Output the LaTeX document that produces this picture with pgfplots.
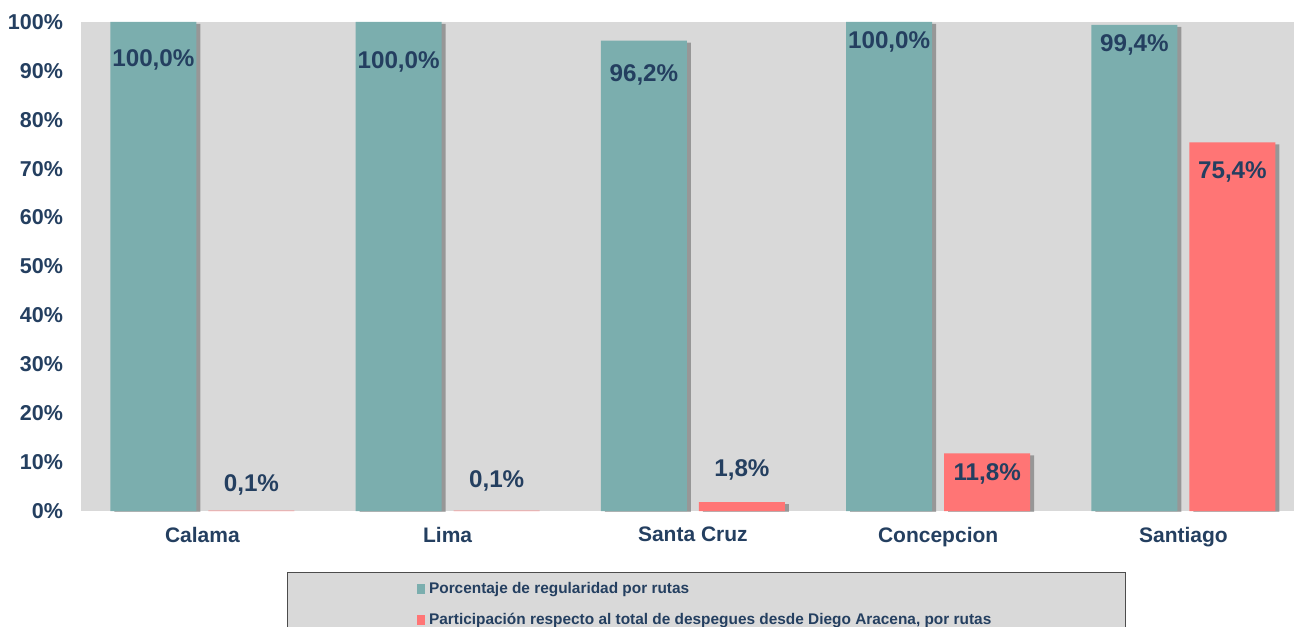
\documentclass[border=0pt]{standalone}
\usepackage{fontspec}
\setmainfont{Liberation Sans}
\usepackage{pgfplots}
\pgfplotsset{compat=1.18}
\usetikzlibrary{shadows,calc}
\definecolor{tealbar}{HTML}{7BAEAE}
\definecolor{redbar}{HTML}{FF7575}
\definecolor{navy}{HTML}{243F60}
\definecolor{bg}{HTML}{D9D9D9}
\begin{document}
\begin{tikzpicture}
\begin{axis}[
    scale only axis,
    width=606.5pt, height=244.5pt,
    xmin=-0.495, xmax=4.451, ymin=0, ymax=100,
    axis background/.style={fill=bg},
    axis line style={draw=none},
    major tick length=0pt,
    xtick={0,1,2,3,4},
    xticklabels={Calama,Lima,Santa Cruz,Concepcion,Santiago},
    ytick={0,10,20,30,40,50,60,70,80,90,100},
    yticklabels={0\%,10\%,20\%,30\%,40\%,50\%,60\%,70\%,80\%,90\%,100\%},
    x tick label style={font=\fontsize{10.5}{12}\selectfont\bfseries, text=navy, yshift=-4.5pt},
    y tick label style={font=\fontsize{10.75}{12}\selectfont\bfseries, text=navy, xshift=-5.5pt},
    legend style={at={(0.5155,-0.1247)}, anchor=north, fill=bg, draw=gray!60!black,
        inner xsep=65pt, inner ysep=3pt, row sep=4.5pt,
        font=\fontsize{7.7}{9}\selectfont\bfseries, text=navy},
    legend cell align=left,
    nodes near coords style={font=\fontsize{12.1}{14}\selectfont\bfseries, text=navy, anchor=center},
    shadowed/.style={drop shadow={shadow xshift=2pt, shadow yshift=-1pt, opacity=0.3, fill=black}},
]
\coordinate (bl) at (rel axis cs:0,0);
\coordinate (tr) at (rel axis cs:1,1);
\addplot[ybar, bar width=43pt, bar shift=-24.5pt, fill=tealbar, draw=none, shadowed, forget plot]
    coordinates {(0,100) (1,100) (2,96.2) (3,100) (4,99.4)};
\addplot[ybar, bar width=43pt, bar shift=24.5pt, fill=redbar, draw=none, shadowed, forget plot]
    coordinates {(0,0.1) (1,0.1) (2,1.8) (3,11.8) (4,75.4)};
\addplot[draw=none, mark=none, forget plot, nodes near coords, point meta=explicit symbolic,
    nodes near coords style={xshift=-24.5pt}]
    coordinates {(0,92.2) [100,0\%] (1,91.8) [100,0\%] (2,89.2) [96,2\%] (3,95.9) [100,0\%] (4,95.3) [99,4\%]};
\addplot[draw=none, mark=none, forget plot, nodes near coords, point meta=explicit symbolic,
    nodes near coords style={xshift=24.5pt}]
    coordinates {(0,5.3) [0,1\%] (1,6.1) [0,1\%] (2,8.4) [1,8\%] (3,7.6) [11,8\%] (4,69.3) [75,4\%]};
\addlegendimage{legend image code/.code={\fill[tealbar] (0pt,-2pt) rectangle (3.5pt,2.5pt);}}
\addlegendentry{Porcentaje de regularidad por rutas}
\addlegendimage{legend image code/.code={\fill[redbar] (0pt,-2pt) rectangle (3.5pt,2.5pt);}}
\addlegendentry{Participación respecto al total de despegues desde Diego Aracena, por rutas}
\end{axis}
\pgfresetboundingbox
\path[use as bounding box] ($(bl)+(-40.5pt,-57.5pt)$) rectangle ($(tr)+(0pt,11pt)$);
\end{tikzpicture}
\end{document}
